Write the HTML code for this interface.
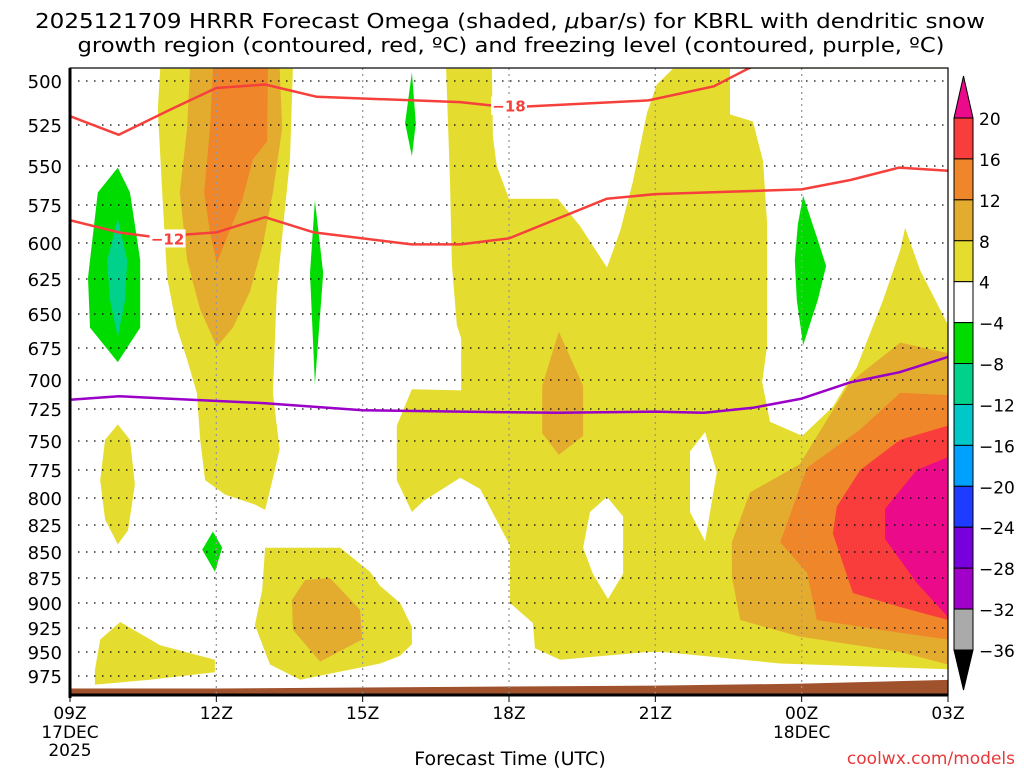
<!DOCTYPE html>
<html><head><meta charset="utf-8"><style>
html,body{margin:0;padding:0;background:#fff;width:1024px;height:768px;overflow:hidden}
svg text{font-family:"DejaVu Sans","Liberation Sans",sans-serif;fill:#000}
</style></head><body>
<svg id="chart" width="1024" height="768" viewBox="0 0 1024 768" xmlns="http://www.w3.org/2000/svg">
<defs><clipPath id="plotclip"><rect x="70" y="68" width="878" height="627"/></clipPath></defs>
<rect width="1024" height="768" fill="#fff"/>
<text x="510" y="28" font-size="20" text-anchor="middle" textLength="950" lengthAdjust="spacingAndGlyphs">2025121709 HRRR Forecast Omega (shaded, <tspan font-style="italic">μ</tspan>bar/s) for KBRL with dendritic snow</text>
<text x="511" y="52" font-size="20" text-anchor="middle" textLength="867" lengthAdjust="spacingAndGlyphs">growth region (contoured, red, ºC) and freezing level (contoured, purple, ºC)</text>
<g id="fills" clip-path="url(#plotclip)"></g>
<g id="grid"></g>
<g id="lines" clip-path="url(#plotclip)"></g>
<g id="axes"></g>
<g id="cbar"></g>
<text x="510" y="765" font-size="19" text-anchor="middle">Forecast Time (UTC)</text>
<text x="1015" y="764" font-size="17" text-anchor="end" style="fill:#e8383a">coolwx.com/models</text>
</svg>
<script>
const NS='http://www.w3.org/2000/svg';
// axis config
const pTicks=[500,525,550,575,600,625,650,675,700,725,750,775,800,825,850,875,900,925,950,975];
const pTickY=[81,125,166,205,243,279,314,348,380,409,441,470,498,525,552,578,603,628,652,676];
const xTickHours=[0,3,6,9,12,15,18];
const xTickLabels=['09Z','12Z','15Z','18Z','21Z','00Z','03Z'];
// freezing level (purple) and DGZ lines (red)
const frzHours=[0,1,2,4,6,8,10,12,13,14,15,16,17,18];
const frzP=[717,714,716,720,726,727,728,727,728,724,716,702,694,682];
const m12Hours=[0,1,1.7,3,4,5,7,8,9,11,12,15,16,17,18];
const m12P=[585,593,596,593,583,593,601,601,597,571,568,565,559,551,553];
const m18Hours=[0,1,2.07,3,4,5.06,8,9,11.86,13.2,13.9,15];
const m18P=[520,531,516,504,502,509,512,515,511,503,493,480];
const sfcHours=[0,3,6,9,12,15,18];
const sfcP=[988,988,987,986,985,983,979];
// shaded omega regions [hour, hPa]
const bigYellow=[[7.71,493],[8.65,493],[8.67,532],[8.75,550],[9.0,571],[10.0,571],[10.46,589],[11.01,617],[11.28,592],[11.54,560],[11.83,518],[12.03,502],[12.36,493],[18,493],[18,968],[14.56,962],[12.16,950],[11.83,950],[10.05,958],[9.53,946],[9.49,920],[9.02,900],[9.02,844],[8.41,792],[8.0,782],[7.24,803],[7.01,813],[6.7,784],[6.7,738],[7.01,708],[8.02,709],[8.02,668],[7.93,658],[7.83,615],[7.79,560]];
const whiteRight=[[13.53,493],[13.53,519],[14.0,523],[14.21,547],[14.29,586],[14.29,674],[14.19,702],[14.35,735],[15.01,746],[15.64,723],[16.13,690],[16.67,640],[17.02,605],[17.12,590],[17.43,619],[18,658],[18,493]];
const whiteHole1=[[11.01,799],[11.34,817],[11.34,871],[11.03,896],[10.72,871],[10.52,846],[10.66,813]];
const whiteHole2=[[13.02,743],[13.26,777],[13.02,840],[12.71,813],[12.71,759]];
const midOrange=[[10.02,663],[10.52,705],[10.52,746],[10.02,762],[9.68,744],[9.68,705]];
const yellowA=[[1.85,493],[1.8,516],[1.89,567],[1.99,624],[2.19,660],[2.4,684],[2.6,711],[2.67,749],[2.77,784],[3.18,797],[3.79,806],[4.0,811],[4.1,793],[4.3,757],[4.2,726],[4.16,711],[4.24,634],[4.37,589],[4.51,546],[4.57,493]];
const darkA=[[2.46,493],[2.4,527],[2.25,567],[2.4,612],[2.67,647],[3.01,674],[3.34,660],[3.69,634],[3.96,600],[4.16,567],[4.35,527],[4.3,493]];
const orangeA=[[2.93,493],[2.87,527],[2.75,567],[2.87,593],[3.01,614],[3.22,596],[3.53,572],[3.75,546],[4.04,535],[4.06,493]];
const greenL=[[0.98,551],[1.23,567],[1.44,612],[1.44,660],[0.98,686],[0.41,660],[0.37,624],[0.57,567]];
const tealL=[[0.98,584],[1.17,612],[1.13,640],[0.98,667],[0.82,640],[0.76,612]];
const green14=[[5.02,572],[5.19,621],[5.02,704],[4.92,621]];
const green16=[[7.01,495],[7.09,524],[7.01,544],[6.87,524]];
const green00=[[15.03,569],[15.33,598],[15.5,616],[15.33,640],[15.03,673],[14.9,640],[14.86,612],[14.92,588]];
const green12=[[2.93,831],[3.12,846],[2.97,869],[2.71,848]];
const ellYellow=[[0.98,737],[1.23,749],[1.33,788],[1.19,830],[0.98,843],[0.72,820],[0.62,784],[0.72,749]];
const blYellow=[[0.51,969],[0.62,937],[1.03,919],[1.85,943],[2.97,958],[2.97,971],[1.64,979],[0.51,984]];
const bmYellow=[[4.0,846],[5.54,846],[6.15,869],[6.36,883],[6.77,900],[7.01,924],[7.01,942],[6.77,954],[6.36,962],[4.72,979],[4.1,963],[3.79,922],[3.94,887]];
const bmOrange=[[4.82,877],[5.33,875],[5.95,907],[5.99,937],[5.13,960],[4.57,927],[4.55,897]];
const rDark=[[17.02,671],[18,679],[18,963],[17.02,950],[14.96,934],[13.74,917],[13.57,874],[13.57,841],[13.94,795],[14.96,770],[15.99,702]];
const rOrange=[[18,713],[17.02,711],[16.2,741],[15.11,773],[14.56,841],[15.11,870],[15.31,917],[17.02,930],[18,937]];
const rRed=[[18,738],[17.02,749],[16.2,775],[15.72,808],[15.64,833],[16.05,890],[17.02,904],[18,917]];
const rMag=[[18,764],[17.36,775],[16.71,810],[16.71,838],[17.36,880],[18,914]];
// colorbar
const cbLevels=[20,16,12,8,4,-4,-8,-12,-16,-20,-24,-28,-32,-36];
const cbColors=['#f93c3c','#f0862a','#e3ac2f','#e5dc30','#ffffff','#00dc00','#00d28c','#00c8c8','#00a0ff','#1e3cff','#7800dc','#a000c8','#aaaaaa'];

const X0=70,X1=948,HMAX=18;
function xS(h){return X0+(X1-X0)*h/HMAX;}
function yS(p){
  const n=pTicks.length;
  if(p<=pTicks[0]){return pTickY[0]+(p-pTicks[0])*(pTickY[1]-pTickY[0])/25;}
  if(p>=pTicks[n-1]){return pTickY[n-1]+(p-pTicks[n-1])*(pTickY[n-1]-pTickY[n-2])/25;}
  for(let i=0;i<n-1;i++){if(p<=pTicks[i+1]){return pTickY[i]+(p-pTicks[i])/(pTicks[i+1]-pTicks[i])*(pTickY[i+1]-pTickY[i]);}}
}
function mk(tag,attrs,parent){const e=document.createElementNS(NS,tag);for(const k in attrs)e.setAttribute(k,attrs[k]);parent.appendChild(e);return e;}
const fills=document.getElementById('fills');
function poly(pts,color,name){
  const e=mk('polygon',{points:pts.map(q=>xS(q[0]).toFixed(1)+','+yS(q[1]).toFixed(1)).join(' '),fill:color},fills);
  
  
}
const Y='#e5dc30',DY='#e3ac2f',OR='#f0862a',RD='#f93c3c',MG='#ea0a8a',GR='#00dc00',TL='#00d28c';
poly(bigYellow,Y,'omega-4-8-main-region');
poly(whiteRight,'#fff','omega-neutral-upper-right');
poly(whiteHole1,'#fff','omega-neutral-hole-1');
poly(whiteHole2,'#fff','omega-neutral-hole-2');
poly(midOrange,DY,'omega-8-12-mid');
poly(yellowA,Y,'omega-4-8-band-12z');
poly(darkA,DY,'omega-8-12-band-12z');
poly(orangeA,OR,'omega-12-16-band-12z');
poly(greenL,GR,'omega-neg4-neg8-left');
poly(tealL,TL,'omega-neg8-neg12-left');
poly(green14,GR,'omega-neg4-14z');
poly(green16,GR,'omega-neg4-16z');
poly(green00,GR,'omega-neg4-00z');
poly(green12,GR,'omega-neg4-12z-low');
poly(ellYellow,Y,'omega-4-8-left-ellipse');
poly(blYellow,Y,'omega-4-8-bottom-left');
poly(bmYellow,Y,'omega-4-8-bottom-mid');
poly(bmOrange,DY,'omega-8-12-bottom-mid');
poly(rDark,DY,'omega-8-12-right');
poly(rOrange,OR,'omega-12-16-right');
poly(rRed,RD,'omega-16-20-right');
poly(rMag,MG,'omega-gt20-right');
// ground
const gpts=sfcHours.map((h,i)=>xS(h)+','+yS(sfcP[i])).join(' ')+' '+xS(18)+',700 '+xS(0)+',700';
const ground=mk('polygon',{points:gpts,fill:'#a0522d'},fills);



// grid
const grid=document.getElementById('grid');
pTicks.forEach(p=>{const l=mk('line',{x1:X0,x2:X1,y1:yS(p),y2:yS(p),stroke:'#000','stroke-width':1.3,'stroke-dasharray':'1.5 6.5'},grid);

});
xTickHours.slice(1,-1).forEach(h=>{const l=mk('line',{x1:xS(h),x2:xS(h),y1:68,y2:695,stroke:'#999','stroke-width':1.3,'stroke-dasharray':'2 4'},grid);

});

// contour lines
const lines=document.getElementById('lines');
function pl(hs,ps,color,name){const e=mk('polyline',{points:hs.map((h,i)=>xS(h).toFixed(1)+','+yS(ps[i]).toFixed(1)).join(' '),fill:'none',stroke:color,'stroke-width':2.5,'stroke-linejoin':'round'},lines);

}
pl(m18Hours,m18P,'#f5403c','dgz-minus18-line');
pl(m12Hours,m12P,'#f5403c','dgz-minus12-line');
pl(frzHours,frzP,'#9a00c8','freezing-level-line');
function clabel(txt,h,p,name){
  const x=xS(h),y=yS(p);
  const r=mk('rect',{x:x-18,y:y-9,width:36,height:18,fill:'#fff'},lines);
  
  
  const t=mk('text',{x:x,y:y+6,'font-size':15,'font-weight':'bold','text-anchor':'middle',style:'fill:#f5403c'},lines);
  t.textContent=txt;
  
  
}
clabel('−12',2.0,597,'contour-label-minus12');
clabel('−18',9.0,514,'contour-label-minus18');

// axes
const axes=document.getElementById('axes');
const fr=mk('rect',{x:X0,y:68,width:X1-X0,height:627,fill:'none',stroke:'#000','stroke-width':1.2},axes);


const la=mk('line',{x1:X0,x2:X0,y1:68,y2:698,stroke:'#000','stroke-width':3},axes);


const ba=mk('line',{x1:X0,x2:X1,y1:695,y2:695,stroke:'#000','stroke-width':3},axes);


pTicks.forEach(p=>{const t=mk('text',{x:62,y:yS(p)+7,'font-size':18,'text-anchor':'end'},axes);t.textContent=p;

});
xTickHours.forEach((h,i)=>{
  const tk=mk('line',{x1:xS(h),x2:xS(h),y1:695,y2:702,stroke:'#000','stroke-width':1},axes);
  
  
  const t=mk('text',{x:xS(h),y:719,'font-size':17,'text-anchor':'middle'},axes);t.textContent=xTickLabels[i];
  
  
});
[['17DEC',0,738],['2025',0,756],['18DEC',15,738]].forEach(a=>{const t=mk('text',{x:xS(a[1]),y:a[2],'font-size':17,'text-anchor':'middle'},axes);t.textContent=a[0];

});

// colorbar
const cb=document.getElementById('cbar');
const CBX=954,CBW=19,cbTop=118,cbStep=(650-118)/13;
const tri1=mk('polygon',{points:`${CBX},${cbTop} ${CBX+CBW},${cbTop} ${CBX+CBW/2},76`,fill:'#ea0a8a',stroke:'#000','stroke-width':1},cb);


cbColors.forEach((c,i)=>{const r=mk('rect',{x:CBX,y:cbTop+i*cbStep,width:CBW,height:cbStep,fill:c,stroke:'#000','stroke-width':1},cb);

});
const tri2=mk('polygon',{points:`${CBX},650 ${CBX+CBW},650 ${CBX+CBW/2},690`,fill:'#000',stroke:'#000','stroke-width':1},cb);


cbLevels.forEach((v,i)=>{const t=mk('text',{x:979,y:cbTop+i*cbStep+7,'font-size':17},cb);t.textContent=(v<0?'−':'')+Math.abs(v);

});
</script>
</body></html>
